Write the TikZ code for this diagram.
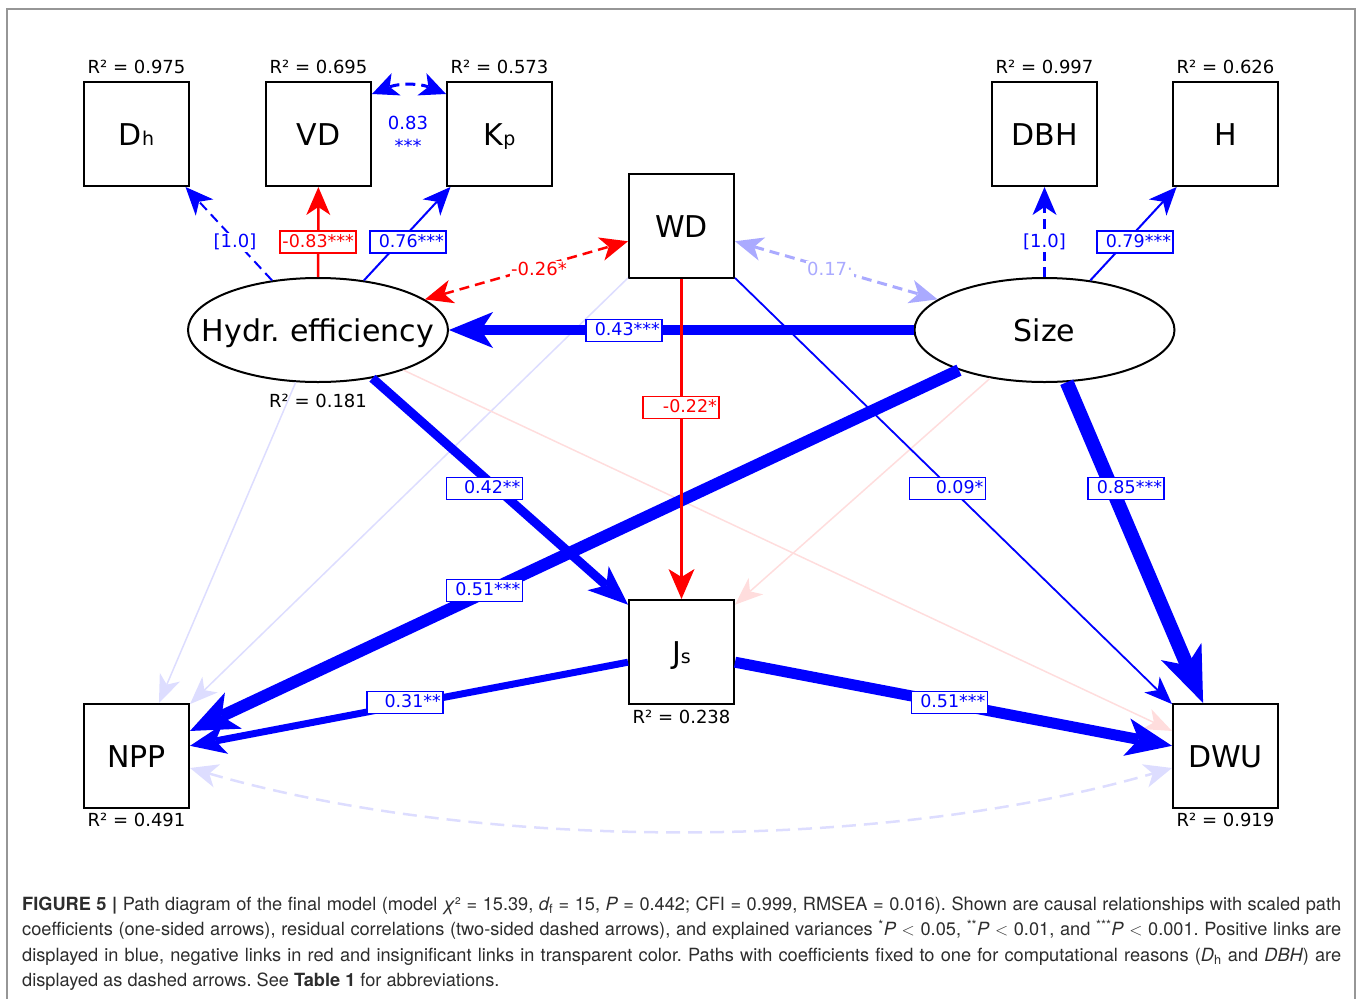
\documentclass[tikz,border=0pt]{standalone}
\usepackage{fontspec}
\setmainfont{DejaVu Sans}
\newfontfamily\capfont{TeX Gyre Heros}
\usetikzlibrary{arrows.meta,shapes.geometric}
\definecolor{pblue}{RGB}{0,0,255}
\definecolor{pred}{RGB}{255,0,0}
\definecolor{fblue}{RGB}{221,221,255}
\definecolor{fred}{RGB}{255,221,221}
\definecolor{lblue}{RGB}{170,170,255}
\definecolor{framegray}{RGB}{150,150,150}
\definecolor{captext}{RGB}{45,45,45}
\newcommand\subtxt[1]{{\fontsize{19}{19}\selectfont #1}}
\newcommand\lab[1]{\makebox[72pt][r]{#1}}
\begin{document}
\frenchspacing
\begin{tikzpicture}[x=1pt,y=1pt,
  obs/.style={draw=black, line width=2pt, minimum width=105pt, minimum height=104pt, inner sep=0pt, text height=22pt, text depth=0pt, font=\fontsize{30}{30}\selectfont},
  lat/.style={draw=black, line width=2pt, ellipse, minimum width=260pt, minimum height=104pt, inner sep=0pt},
  lattext/.style={inner sep=0pt, text height=22pt, text depth=0pt, font=\fontsize{30}{30}\selectfont},
  rsq/.style={inner sep=0pt, text height=13pt, text depth=0pt, font=\fontsize{18}{18}\selectfont},
  elab/.style={draw=#1, fill=white, text=#1, line width=1.8pt, font=\fontsize{17.5}{17.5}\selectfont, inner xsep=2pt, inner ysep=3pt, text height=13pt, text depth=3pt},
  flab/.style={fill=white, text=#1, font=\fontsize{18}{18}\selectfont, inner sep=1.5pt, text height=13pt, text depth=3pt},
  hd/.style n args={3}{-{Stealth[length=#1pt,width=#2pt,inset=#3pt,line width=0pt]}},
  hdd/.style n args={3}{{Stealth[length=#1pt,width=#2pt,inset=#3pt,line width=0pt]}-{Stealth[length=#1pt,width=#2pt,inset=#3pt,line width=0pt]}},
  dsh/.style={dash pattern=on 10pt off 6pt},
  capline/.style={anchor=base west, inner sep=0pt, text=captext, font=\capfont\fontsize{18.2}{18.2}\selectfont}
]
\useasboundingbox (0,0) rectangle (1358,-999);
\draw[framegray, line width=1.3pt] (7,-9) rectangle (1355,-1020);

% nodes
\node[obs] (dh)  at (136.5,-134) {D\subtxt{h}};
\node[obs] (vd)  at (318.5,-134) {VD};
\node[obs] (kp)  at (499.5,-134) {K\subtxt{p}};
\node[obs] (dbh) at (1044.5,-134) {DBH};
\node[obs] (h)   at (1225.5,-134) {H};
\node[obs] (wd)  at (681.5,-226) {WD};
\node[obs] (js)  at (681.5,-652) {J\subtxt{s}};
\node[obs] (npp) at (136.5,-756) {NPP};
\node[obs] (dwu) at (1225.5,-756) {DWU};
\node[lat] (hydr) at (318,-330) {};
\node[lattext] (hydrt) at (hydr) {Hydr. efficiency};
\node[lat] (size) at (1044.5,-330) {};
\node[lattext] (sizet) at (size) {Size};

% R^2 labels
\node[rsq] (r1) at (136.5,-66.5) {R² = 0.975};
\node[rsq] (r2) at (318.5,-66.5) {R² = 0.695};
\node[rsq] (r3) at (499.5,-66.5) {R² = 0.573};
\node[rsq] (r4) at (1044.5,-66.5) {R² = 0.997};
\node[rsq] (r5) at (1225.5,-66.5) {R² = 0.626};
\node[rsq] (r6) at (318,-401) {R² = 0.181};
\node[rsq] (r7) at (681.5,-716.5) {R² = 0.238};
\node[rsq] (r8) at (136.5,-820) {R² = 0.491};
\node[rsq] (r9) at (1225.5,-820) {R² = 0.919};

% faint (insignificant) links
\draw[fblue, line width=1.5pt, hd={28}{22}{8}] (hydr) -- (npp);
\draw[fblue, line width=1.5pt, hd={28}{22}{8}] (wd) -- (npp);
\draw[fred, line width=1.5pt, hd={28}{22}{8}] (hydr) -- (dwu);
\draw[fred, line width=1.5pt, hd={28}{22}{8}] (size) -- (js);
\draw[fblue, line width=2.5pt, dash pattern=on 14pt off 8pt, hdd={28}{24}{8}] ([yshift=-12pt]npp.east) .. controls (480,-852) and (882,-852) .. ([yshift=-12pt]dwu.west);

% measurement paths
\draw[pblue, line width=2pt, dsh, hd={28}{24}{8}] (hydr) -- (dh);
\draw[pred, line width=2.5pt, hd={28}{24}{8}] (hydr) -- (vd);
\draw[pblue, line width=2pt, hd={28}{24}{8}] (hydr) -- (kp);
\draw[pblue, line width=2.5pt, dsh, hd={28}{24}{8}] (size) -- (dbh);
\draw[pblue, line width=2pt, hd={28}{24}{8}] (size) -- (h);
\draw[pblue, line width=3pt, dsh, hdd={26}{24}{7}] ([yshift=-13pt]vd.north east) to[bend left=22] ([yshift=-13pt]kp.north west);

% correlations
\draw[pred, line width=2.5pt, dsh, hdd={28}{24}{8}] (hydr) -- (wd);
\draw[lblue, line width=3pt, dsh, hdd={28}{24}{8}] (wd) -- (size);

% structural paths
\draw[pblue, line width=1.8pt, hd={28}{22}{8}] (wd) -- (dwu);
\draw[pblue, line width=10pt, hd={44}{36}{12}] (size) -- (hydr);
\draw[pblue, line width=9pt, hd={40}{32}{11}] (hydr) -- (js);
\draw[pblue, line width=12pt, hd={48}{40}{13}] (size) -- (npp);
\draw[pblue, line width=14pt, hd={56}{44}{15}] (size) -- (dwu);
\draw[pblue, line width=7pt, hd={36}{30}{10}] (js) -- (npp);
\draw[pblue, line width=11pt, hd={46}{38}{12}] (js) -- (dwu);
\draw[pred, line width=3pt, hd={30}{26}{8}] (wd) -- (js);

% edge labels
\node[flab=pblue] (l1) at (235,-242) {[1.0]};
\node[elab=pred] (l2) at (318,-242) {\lab{-0.83***}};
\node[elab=pblue] (l3) at (408,-242) {\lab{0.76***}};
\node[flab=pblue] (l4) at (1044.5,-242) {[1.0]};
\node[elab=pblue] (l5) at (1135,-242) {\lab{0.79***}};
\node[rsq, text=pblue] (l6a) at (408,-122.5) {0.83};
\node[anchor=base, inner sep=0pt, text=pblue, font=\fontsize{18}{18}\selectfont] (l6b) at (408,-152) {***};
\node[flab=pred] (l7) at (539,-270) {-0.26*};
\node[flab=lblue] (l8) at (830,-270) {0.17·};
\node[elab=pblue] (l9) at (624,-330.5) {\lab{0.43***}};
\node[elab=pred] (l10) at (681,-407.5) {\lab{-0.22*}};
\node[elab=pblue] (l11) at (484.5,-488.5) {\lab{0.42**}};
\node[elab=pblue] (l12) at (947.5,-488.5) {\lab{0.09*}};
\node[elab=pblue] (l13) at (1126,-488.5) {\lab{0.85***}};
\node[elab=pblue] (l14) at (484.5,-590.5) {\lab{0.51***}};
\node[elab=pblue] (l15) at (405,-702.5) {\lab{0.31**}};
\node[elab=pblue] (l16) at (949.5,-702.5) {\lab{0.51***}};

% caption
\node[capline] (cap1) at (22,-910.5) {\makebox[1319pt][s]{\textbf{FIGURE 5 |} Path diagram of the final model (model {\itshape χ}² = 15.39, {\itshape d}\textsubscript{f} = 15, {\itshape P} = 0.442; CFI = 0.999, RMSEA = 0.016). Shown are causal relationships with scaled path}};
\node[capline] (cap2) at (22,-935.8) {\makebox[1319pt][s]{coefficients (one-sided arrows), residual correlations (two-sided dashed arrows), and explained variances \textsuperscript{*}{\itshape P} $<$ 0.05, \textsuperscript{**}{\itshape P} $<$ 0.01, and \textsuperscript{***}{\itshape P} $<$ 0.001. Positive links are}};
\node[capline] (cap3) at (22,-961.1) {\makebox[1319pt][s]{displayed in blue, negative links in red and insignificant links in transparent color. Paths with coefficients fixed to one for computational reasons ({\itshape D}\textsubscript{h} and {\itshape DBH}) are}};
\node[capline] (cap4) at (22,-986.4) {displayed as dashed arrows. See \textbf{Table 1} for abbreviations.};
\end{tikzpicture}
\end{document}
